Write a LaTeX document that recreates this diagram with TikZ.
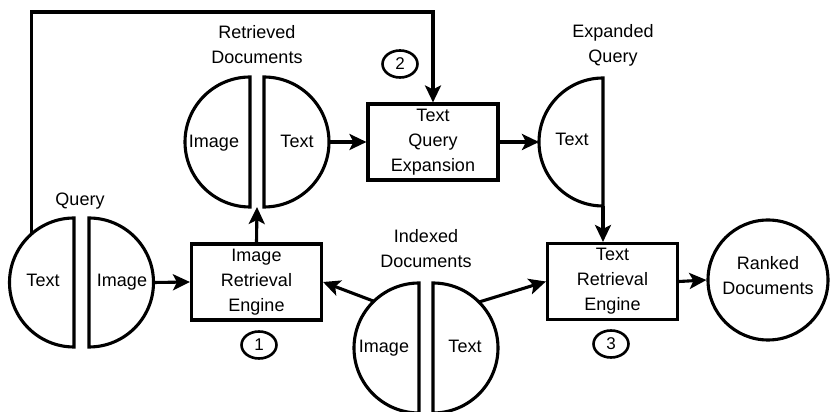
\documentclass[tikz,border=0pt]{standalone}
\usepackage{fontspec}
\setmainfont{Liberation Sans}
\usetikzlibrary{arrows.meta,shapes.geometric}

\tikzset{
  txt/.style={font=\fontsize{18}{25}\selectfont},
  stroke/.style={line width=3.1pt},
  box/.style={draw, stroke, txt, align=center, inner sep=0pt,
              minimum width=130pt, minimum height=76pt},
  arr/.style={stroke, -{Stealth[length=17pt,width=16pt,inset=4pt]}},
  halfc/.style={circle, minimum size=#1, inner sep=0pt, outer sep=0pt},
  lbl/.style={txt, align=center, inner sep=0pt},
  num/.style={draw, ellipse, line width=2.6pt, inner sep=0pt,
              minimum width=35pt, minimum height=27pt,
              font=\fontsize{17}{18}\selectfont},
}

\begin{document}
\begin{tikzpicture}[x=1pt,y=1pt]
\useasboundingbox (0,0) rectangle (831,412);

% ---- split circles: each half is a circle centred on its flat edge ----
% Query
\node[halfc=129pt] (qL) at (74,129.5) {};
\node[halfc=129pt] (qR) at (89,129.5) {};
\draw[stroke] (qL.north) arc[start angle=90,end angle=270,radius=64.5pt] -- cycle;
\draw[stroke] (qR.south) arc[start angle=-90,end angle=90,radius=64.5pt] -- cycle;
\node[lbl,anchor=base] (qLt) at (43,125) {Text};
\node[lbl,anchor=base] (qRt) at (122,125) {Image};
\node[lbl] (qlab) at (80,211.4) {Query};

% Retrieved documents
\node[halfc=130pt] (rdL) at (250,270) {};
\node[halfc=130pt] (rdR) at (264,270) {};
\draw[stroke] (rdL.north) arc[start angle=90,end angle=270,radius=65pt] -- cycle;
\draw[stroke] (rdR.south) arc[start angle=-90,end angle=90,radius=65pt] -- cycle;
\node[lbl,anchor=base] (rdLt) at (214,264) {Image};
\node[lbl,anchor=base] (rdRt) at (297,264) {Text};
\node[lbl] (rdlab) at (257,367.7) {Retrieved\\Documents};
\coordinate (rdgap) at (257,205);

% Indexed documents
\node[halfc=130pt] (idL) at (419,64) {};
\node[halfc=130pt] (idR) at (433,64) {};
\draw[stroke] (idL.north) arc[start angle=90,end angle=270,radius=65pt] -- cycle;
\draw[stroke] (idR.south) arc[start angle=-90,end angle=90,radius=65pt] -- cycle;
\node[lbl,anchor=base] (idLt) at (384,59) {Image};
\node[lbl,anchor=base] (idRt) at (465,59) {Text};
\node[lbl] (idlab) at (426,163.7) {Indexed\\Documents};

% Expanded query (text half only)
\node[halfc=128pt] (eq) at (603,270) {};
\draw[stroke] (eq.north) arc[start angle=90,end angle=270,radius=64pt] -- cycle;
\node[lbl,anchor=base] (eqt) at (572,266) {Text};
\node[lbl] (eqlab) at (613,366.9) {Expanded\\Query};

% Ranked documents
\node[draw,stroke,circle,minimum size=120pt,inner sep=0pt] (rank) at (768,132) {};
\node[lbl] (rankt) at (768,136) {Ranked\\Documents};

% ---- processing boxes ----
\node[box] (ire) at (256.5,130) {Image\\Retrieval\\Engine};
\node[box] (tqe) at (433,270) {Text\\Query\\Expansion};
\node[box] (tre) at (612.5,130.5) {Text\\Retrieval\\Engine};

% ---- step numbers ----
\node[num] (n1) at (259,67) {1};
\node[num] (n2) at (400,348) {2};
\node[num] (n3) at (611,68) {3};

% ---- connectors ----
\draw[arr] (qR.east) -- (ire.west);
\draw[arr] (ire.north) -- (rdgap);
\draw[arr] (rdR.east) -- (tqe.west);
\draw[arr] (tqe.east) -- (eq.west);
\draw[arr] (eq.south) -- (eq.south |- tre.north);
\draw[arr] (tre.east) -- (rank.west);
\draw[arr] (idL.134) -- (ire.east);
\draw[arr] (idR.45) -- (tre.west);
\coordinate (fb) at (433,400);
\draw[arr] (qL.131) |- (fb) -- (tqe.north);
\end{tikzpicture}
\end{document}
